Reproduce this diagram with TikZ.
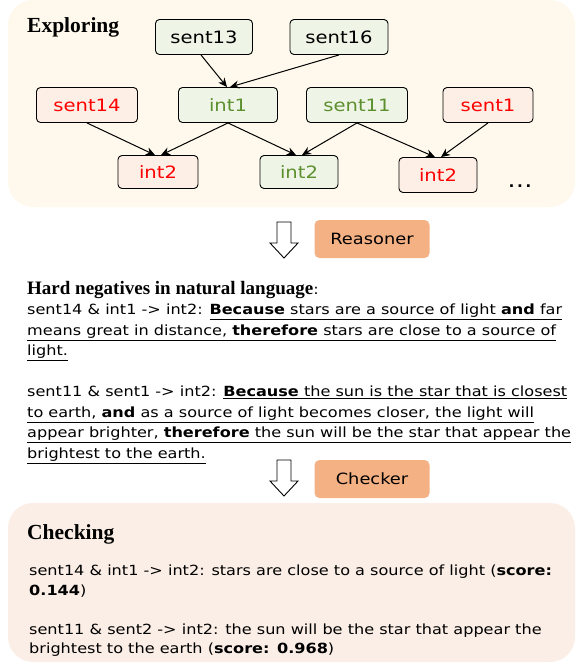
\documentclass[tikz,border=0pt]{standalone}
\usepackage{fontspec}
\setmainfont{DejaVu Sans}[FakeStretch=1.15]
\newfontfamily\titlefont{Liberation Serif}
\usetikzlibrary{arrows.meta}
\definecolor{explorebg}{HTML}{FEF9EC}
\definecolor{checkbg}{HTML}{FBEEE6}
\definecolor{goodfill}{HTML}{EFF5E6}
\definecolor{goodtext}{HTML}{5C8F2E}
\definecolor{badfill}{HTML}{FDEFE6}
\definecolor{badtext}{HTML}{FF0000}
\definecolor{toolfill}{HTML}{F4B183}
\tikzset{
  box/.style={draw, rounded corners=4pt, line width=0.9pt, minimum height=35pt,
    inner sep=0pt, font=\fontsize{17}{20}\selectfont},
  good/.style={box, fill=goodfill, text=goodtext},
  plain/.style={box, fill=goodfill, text=black},
  bad/.style={box, fill=badfill, text=badtext},
  tool/.style={fill=toolfill, rounded corners=5pt, minimum width=115pt, minimum height=38pt,
    font=\fontsize{15.5}{18}\selectfont},
  title/.style={anchor=west, inner sep=0pt, font=\titlefont\bfseries\fontsize{21.5}{24}\selectfont},
  para/.style={anchor=north west, inner sep=0pt, align=left},
  link/.style={-{Stealth[length=9pt,width=8pt]}, line width=1pt},
}
\begin{document}
\begin{tikzpicture}[x=1pt,y=-1pt]
  \useasboundingbox (0,0) rectangle (576,664);
  % backgrounds
  \fill[explorebg, rounded corners=25pt] (8,0) rectangle (575,207);
  \fill[checkbg, rounded corners=25pt] (8,503) rectangle (575,662);

  % exploring
  \node[title] (exploring) at (27,27) {Exploring};
  \node[plain, minimum width=97pt] (s13) at (204,37) {sent13};
  \node[plain, minimum width=98pt] (s16) at (339,37) {sent16};
  \node[bad, minimum width=101pt] (s14) at (87,105) {sent14};
  \node[good, minimum width=99pt] (i1) at (228,105) {int1};
  \node[good, minimum width=101pt] (s11) at (357,105) {sent11};
  \node[bad, minimum width=90pt] (s1) at (488,105) {sent1};
  \node[bad, minimum width=80pt, minimum height=33pt] (i2a) at (158,172) {int2};
  \node[good, minimum width=78pt, minimum height=33pt] (i2b) at (299,172) {int2};
  \node[bad, minimum width=78pt, minimum height=35pt] (i2c) at (438,175) {int2};
  \node[anchor=base, inner sep=0pt, font=\fontsize{22}{24}\selectfont] (more) at (520,187) {\dots};

  \draw[link] ([xshift=-3pt]s13.south) -- ([xshift=-1pt]i1.north);
  \draw[link] (s16.south) -- ([xshift=2pt]i1.north);
  \draw[link] (s14.south) -- ([xshift=-3pt]i2a.north);
  \draw[link] (i1.south) -- ([xshift=3pt]i2a.north);
  \draw[link] (i1.south) -- ([xshift=-3pt]i2b.north);
  \draw[link] (s11.south) -- ([xshift=3pt]i2b.north);
  \draw[link] (s11.south) -- ([xshift=-3pt]i2c.north);
  \draw[link] (s1.south) -- ([xshift=3pt]i2c.north);

  % hollow arrows and tools
  \foreach \y in {0,238}
    \draw[fill=white, line width=0.9pt] (277,222+\y) -- (291,222+\y) -- (291,243+\y)
      -- (298,243+\y) -- (284,258+\y) -- (270,243+\y) -- (277,243+\y) -- cycle;
  \node[tool] (reasoner) at (372,239) {Reasoner};
  \node[tool] (checker) at (372,479) {Checker};

  % hard negatives
  \node[para, font=\fontsize{14}{20.5}\selectfont] (negatives) at (27,281) {%
    {\titlefont\bfseries\fontsize{19}{20}\selectfont Hard negatives in natural language}:\\
    sent14 \& int1 -> int2: \underline{\textbf{Because} stars are a source of light \textbf{and} far}\\
    \underline{means great in distance, \textbf{therefore} stars are close to a source of}\\
    \underline{light.}\\[20.5pt]
    sent11 \& sent1 -> int2: \underline{\textbf{Because} the sun is the star that is closest}\\
    \underline{to earth, \textbf{and} as a source of light becomes closer, the light will}\\
    \underline{appear brighter, \textbf{therefore} the sun will be the star that appear the}\\
    \underline{brightest to the earth.}};

  % checking
  \node[title] (checking) at (27,534) {Checking};
  \node[para, font=\fontsize{14}{19.5}\selectfont] (scores) at (29,565) {%
    sent14 \& int1 -> int2: stars are close to a source of light (\textbf{score:}\\
    \textbf{0.144})\\[19.5pt]
    sent11 \& sent2 -> int2: the sun will be the star that appear the\\
    brightest to the earth (\textbf{score: 0.968})};
\end{tikzpicture}
\end{document}
